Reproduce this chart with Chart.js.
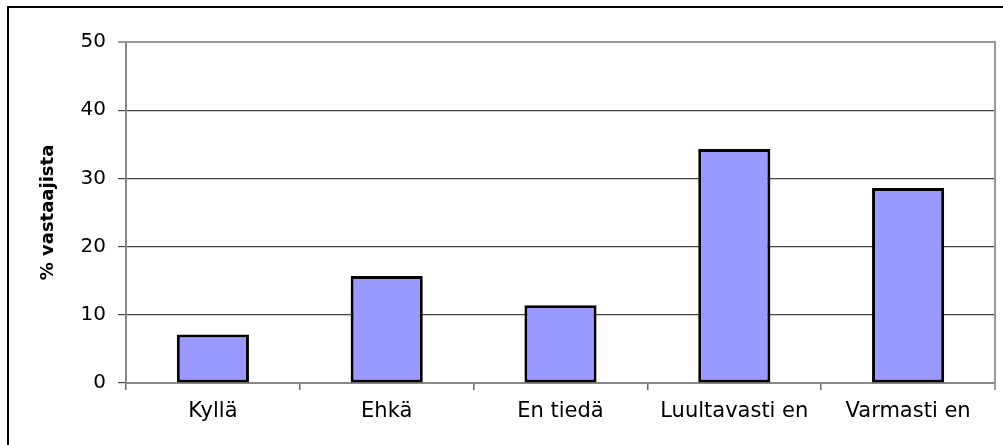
<!DOCTYPE html>
<html>
<head>
<meta charset="utf-8">
<script src="https://cdn.jsdelivr.net/npm/chart.js@4.4.1/dist/chart.umd.min.js"></script>
<style>
  html,body{margin:0;padding:0;background:#fff;overflow:hidden;}
  #wrap{position:relative;width:1003px;height:445px;}
  #frame{position:absolute;left:7px;top:6px;width:1100px;height:600px;border:2px solid #000;box-sizing:border-box;}
  canvas{position:absolute;left:0;top:0;}
</style>
</head>
<body>
<div id="wrap">
  <div id="frame"></div>
  <canvas id="ch" width="1003" height="445"></canvas>
</div>
<script>
const categories = ["Kyllä", "Ehkä", "En tiedä", "Luultavasti en", "Varmasti en"];
const percents = [7.1, 15.7, 11.4, 34.3, 28.6];
const yTicks = [0, 10, 20, 30, 40, 50];
const yTitle = "% vastaajista";

Chart.defaults.font.family = "'DejaVu Sans', sans-serif";
Chart.defaults.color = "#000";

// grey border round the plot area (top + right edges)
const plotBorder = {
  id: "plotBorder",
  afterDatasetsDraw(chart){
    const {ctx, chartArea:{left,top,right,bottom}} = chart;
    ctx.save();
    ctx.strokeStyle = "#999";
    ctx.lineWidth = 2;
    ctx.beginPath();
    ctx.moveTo(left, top);
    ctx.lineTo(right, top);
    ctx.lineTo(right, bottom + 7);
    ctx.stroke();
    ctx.restore();
  }
};

new Chart(document.getElementById("ch"), {
  type: "bar",
  data: {
    labels: categories,
    datasets: [{
      data: percents,
      backgroundColor: "#9999FF",
      borderColor: "#000",
      borderWidth: 3,
      borderSkipped: false,
      categoryPercentage: 1,
      barPercentage: 0.415
    }]
  },
  options: {
    responsive: false,
    animation: false,
    layout: { padding: { top: 42, right: 8, bottom: 0, left: 0 } },
    plugins: { legend: { display: false }, tooltip: { enabled: false } },
    scales: {
      x: {
        grid: { display: true, drawOnChartArea: false, drawTicks: true, tickLength: 7, color: "#666", lineWidth: 1.5, offset: true },
        border: { display: true, color: "#888", width: 2 },
        ticks: { font: { size: 21 }, padding: 9, maxRotation: 0, autoSkip: false },
        afterFit(s){ s.height = 62; }
      },
      y: {
        min: 0, max: 50,
        afterBuildTicks(s){ s.ticks = yTicks.map(v => ({ value: v })); },
        grid: {
          color: c => c.tick && c.tick.value === 50 ? "#999" : "#444",
          lineWidth: c => c.tick && c.tick.value === 50 ? 2 : 1.2,
          tickLength: 8
        },
        border: { display: true, color: "#888", width: 2 },
        ticks: { font: { size: 20 }, padding: 12 },
        title: { display: true, text: yTitle, font: { size: 18, weight: "bold" }, padding: { top: 38, bottom: 0 } },
        afterFit(s){ s.width = 126; }
      }
    }
  },
  plugins: [plotBorder]
});
</script>
</body>
</html>
